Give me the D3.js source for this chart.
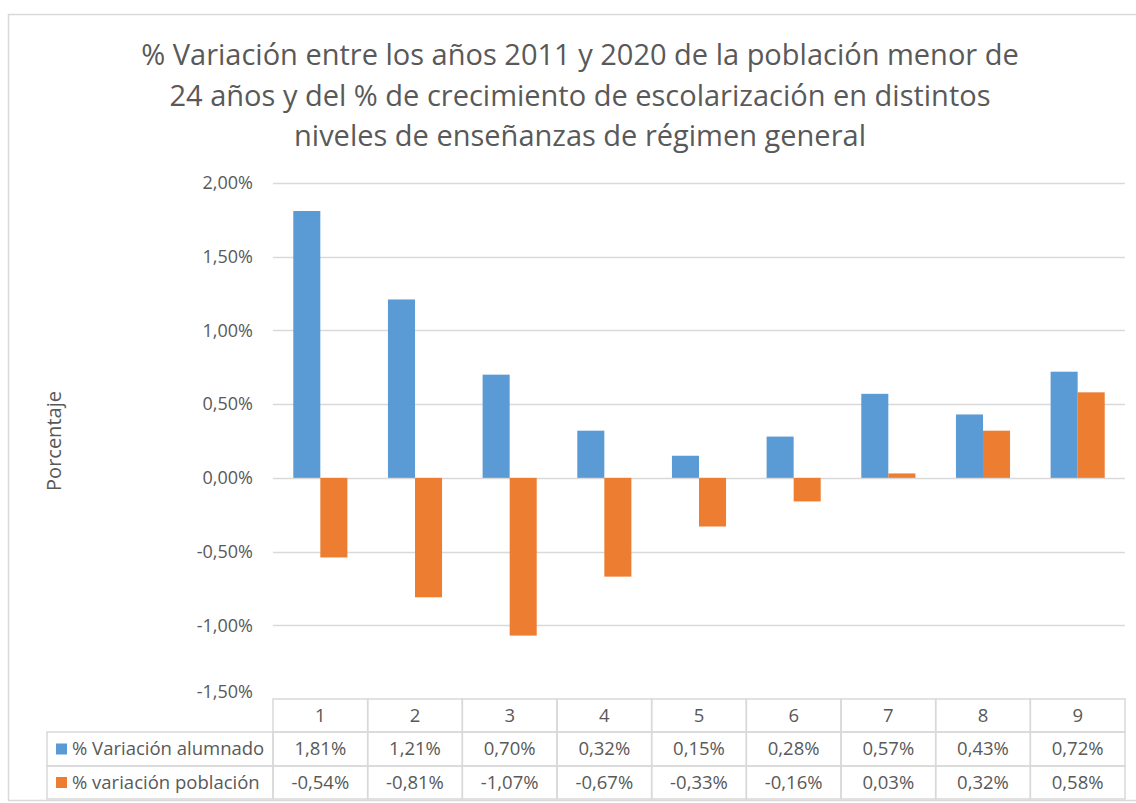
<!DOCTYPE html>
<html lang="es">
<head>
<meta charset="UTF-8">
<title>Variación población y escolarización</title>
<script src="https://cdn.jsdelivr.net/npm/d3@7.9.0/dist/d3.min.js"></script>
<style>
    body { margin: 0; background: #fff; }
    svg { display: block; font-family: "Open Sans", "Noto Sans", sans-serif; }
    .grid line { stroke: #d9d9d9; stroke-width: 1.3; }
    .tick-label { fill: #595959; font-size: 18px; }
    .cell { fill: none; stroke: #d9d9d9; stroke-width: 1.5; }
    .cell-text { fill: #595959; font-size: 18.5px; }
</style>
</head>
<body>
<svg id="chart" width="1136" height="803"></svg>
<script>
// data
const categories = ['1', '2', '3', '4', '5', '6', '7', '8', '9'];
const seriesNames = ['% Variación alumnado', '% variación población'];
const alumnado = [1.81, 1.21, 0.70, 0.32, 0.15, 0.28, 0.57, 0.43, 0.72];
const poblacion = [-0.54, -0.81, -1.07, -0.67, -0.33, -0.16, 0.03, 0.32, 0.58];
const yTicks = [-1.5, -1.0, -0.5, 0, 0.5, 1.0, 1.5, 2.0];
const titleLines = [
    '% Variación entre los años 2011 y 2020 de la población menor de',
    '24 años y del % de crecimiento de escolarización en distintos',
    'niveles de enseñanzas de régimen general'
];
const colors = ['#5b9bd5', '#ed7d31'];

const svg = d3.select('#chart');
const plot = { left: 273, right: 1125, top: 183, bottom: 699 };

// spanish number format, plain hyphen for negatives
const es = d3.formatLocale({ decimal: ',', thousands: '.', grouping: [3], currency: ['', '€'], minus: '-' });
const fmt = v => es.format('.2f')(v) + '%';

// chart border
svg.append('rect')
    .attr('x', 8.5).attr('y', 14.5)
    .attr('width', 1140).attr('height', 786)
    .attr('fill', '#fff').attr('stroke', '#d9d9d9').attr('stroke-width', 1.5);

// title
svg.append('g').selectAll('text')
    .data(titleLines)
    .join('text')
    .attr('x', 580)
    .attr('y', (d, i) => 65 + i * 40.5)
    .attr('text-anchor', 'middle')
    .attr('fill', '#595959')
    .attr('font-size', 29)
    .text(d => d);

const y = d3.scaleLinear().domain([-1.5, 2.0]).range([plot.bottom, plot.top]);
const x = d3.scaleBand().domain(categories).range([plot.left, plot.right]).padding(0);
const x1 = d3.scaleBand().domain(seriesNames).range([0, x.bandwidth()])
    .paddingInner(0).paddingOuter(0.75);

// gridlines
svg.append('g').attr('class', 'grid')
    .selectAll('line')
    .data(yTicks.filter(t => t > -1.5))
    .join('line')
    .attr('x1', plot.left).attr('x2', plot.right)
    .attr('y1', d => Math.round(y(d)) + 0.5).attr('y2', d => Math.round(y(d)) + 0.5);

// y tick labels
svg.append('g')
    .selectAll('text')
    .data(yTicks)
    .join('text')
    .attr('class', 'tick-label')
    .attr('x', 253)
    .attr('y', d => y(d))
    .attr('dy', d => d === -1.5 ? '-0.05em' : '0.35em')
    .attr('text-anchor', 'end')
    .text(fmt);

// y axis title
svg.append('text')
    .attr('transform', 'translate(61,441) rotate(-90)')
    .attr('text-anchor', 'middle')
    .attr('fill', '#595959')
    .attr('font-size', 20)
    .text('Porcentaje');

// bars
const seriesData = [alumnado, poblacion];
seriesData.forEach((vals, s) => {
    svg.append('g')
        .selectAll('rect')
        .data(vals)
        .join('rect')
        .attr('x', (d, i) => x(categories[i]) + x1(seriesNames[s]))
        .attr('width', x1.bandwidth())
        .attr('y', d => y(Math.max(0, d)))
        .attr('height', d => Math.abs(y(d) - y(0)))
        .attr('fill', colors[s]);
});

// data table
const rowTop = [699, 732, 766];
const rowH = [33, 34, 33];
const labelLeft = 47;
const table = svg.append('g');

// header row
categories.forEach(c => {
    table.append('rect').attr('class', 'cell')
        .attr('x', x(c)).attr('y', rowTop[0])
        .attr('width', x.bandwidth()).attr('height', rowH[0]);
    table.append('text').attr('class', 'cell-text')
        .attr('x', x(c) + x.bandwidth() / 2)
        .attr('y', rowTop[0] + rowH[0] / 2)
        .attr('dy', '0.35em')
        .attr('text-anchor', 'middle')
        .text(c);
});

seriesData.forEach((vals, s) => {
    const top = rowTop[s + 1], h = rowH[s + 1];
    table.append('rect').attr('class', 'cell')
        .attr('x', labelLeft).attr('y', top)
        .attr('width', plot.left - labelLeft).attr('height', h);
    table.append('rect')
        .attr('x', 56).attr('y', top + h / 2 - 5.5)
        .attr('width', 11).attr('height', 11)
        .attr('fill', colors[s]);
    table.append('text').attr('class', 'cell-text')
        .attr('x', 72).attr('y', top + h / 2)
        .attr('dy', '0.35em')
        .text(seriesNames[s]);
    vals.forEach((v, i) => {
        const c = categories[i];
        table.append('rect').attr('class', 'cell')
            .attr('x', x(c)).attr('y', top)
            .attr('width', x.bandwidth()).attr('height', h);
        table.append('text').attr('class', 'cell-text')
            .attr('x', x(c) + x.bandwidth() / 2)
            .attr('y', top + h / 2)
            .attr('dy', '0.35em')
            .attr('text-anchor', 'middle')
            .text(fmt(v));
    });
});
</script>
</body>
</html>
